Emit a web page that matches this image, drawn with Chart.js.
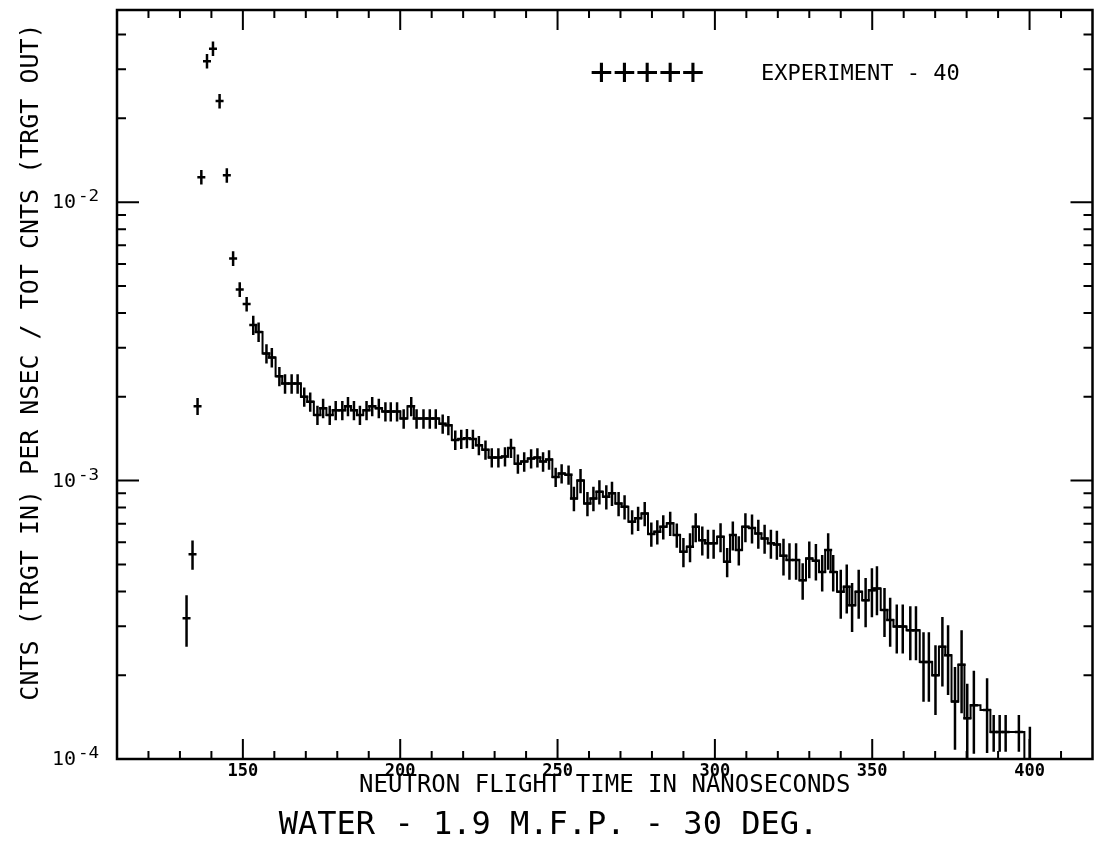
<!DOCTYPE html>
<html>
<head>
<meta charset="utf-8">
<title>Water - 1.9 M.F.P. - 30 deg.</title>
<script src="https://cdn.jsdelivr.net/npm/chart.js@4.4.0/dist/chart.umd.min.js"></script>
<style>
    html, body { margin: 0; padding: 0; background: #fff; }
    #wrap { width: 1099px; height: 851px; }
</style>
</head>
<body>
<div id="wrap"><canvas id="tofChart" width="1099" height="851"></canvas></div>
<script>
// Neutron flight time (ns) of each channel
const flightTimes = [
    132.1, 134.0, 135.6, 136.8, 138.6, 140.5, 142.6, 144.9, 146.9, 149.0,
    151.2, 153.3, 155.0, 157.5, 159.2, 161.6, 163.4, 165.5, 167.4, 169.5,
    171.4, 173.7, 175.5, 177.6, 179.5, 181.6, 183.4, 185.3, 187.2, 189.3,
    191.1, 193.2, 195.3, 197.0, 199.0, 201.1, 203.5, 205.2, 207.4, 209.4,
    211.3, 213.5, 215.3, 217.5, 219.4, 221.2, 223.1, 225.0, 227.1, 229.1,
    231.2, 233.3, 235.2, 237.4, 239.4, 241.6, 243.6, 245.4, 247.3, 249.4,
    251.3, 253.5, 255.2, 257.3, 259.5, 261.4, 263.3, 265.5, 267.3, 269.4,
    271.3, 273.7, 275.6, 277.7, 279.8, 281.7, 283.6, 285.8, 287.9, 290.0,
    292.1, 293.9, 296.0, 297.8, 299.6, 301.8, 303.9, 305.7, 307.6, 309.7,
    311.8, 313.8, 315.8, 317.8, 319.7, 321.8, 323.7, 325.8, 327.9, 330.0,
    332.1, 334.1, 336.0, 337.6, 340.0, 341.9, 343.6, 345.7, 347.9, 349.9,
    351.5, 353.9, 355.7, 357.8, 359.7, 362.1, 363.9, 366.3, 368.0, 370.1,
    372.3, 374.1, 376.3, 378.4, 380.2, 382.3, 386.5, 388.6, 390.5, 392.4,
    396.6, 400.1
];

// Counts (target in) per nsec / total counts (target out)
const counts = [
    3.20e-4, 5.44e-4, 1.85e-3, 1.23e-2, 3.21e-2, 3.56e-2, 2.31e-2, 1.25e-2, 6.28e-3, 4.86e-3,
    4.31e-3, 3.62e-3, 3.42e-3, 2.86e-3, 2.77e-3, 2.37e-3, 2.23e-3, 2.23e-3, 2.23e-3, 2.00e-3,
    1.92e-3, 1.72e-3, 1.82e-3, 1.72e-3, 1.79e-3, 1.79e-3, 1.85e-3, 1.79e-3, 1.72e-3, 1.79e-3,
    1.85e-3, 1.82e-3, 1.77e-3, 1.77e-3, 1.77e-3, 1.67e-3, 1.85e-3, 1.67e-3, 1.67e-3, 1.67e-3,
    1.67e-3, 1.60e-3, 1.58e-3, 1.40e-3, 1.41e-3, 1.42e-3, 1.41e-3, 1.34e-3, 1.29e-3, 1.21e-3,
    1.21e-3, 1.22e-3, 1.31e-3, 1.15e-3, 1.17e-3, 1.20e-3, 1.21e-3, 1.17e-3, 1.19e-3, 1.03e-3,
    1.06e-3, 1.05e-3, 8.63e-4, 1.00e-3, 8.28e-4, 8.63e-4, 9.12e-4, 8.75e-4, 9.00e-4, 8.28e-4,
    8.05e-4, 7.11e-4, 7.32e-4, 7.62e-4, 6.43e-4, 6.55e-4, 6.82e-4, 7.02e-4, 6.37e-4, 5.55e-4,
    5.78e-4, 6.82e-4, 6.11e-4, 5.95e-4, 5.95e-4, 6.28e-4, 5.11e-4, 6.37e-4, 5.63e-4, 6.82e-4,
    6.75e-4, 6.46e-4, 6.20e-4, 5.95e-4, 5.90e-4, 5.37e-4, 5.18e-4, 5.18e-4, 4.39e-4, 5.25e-4,
    5.15e-4, 4.70e-4, 5.63e-4, 4.70e-4, 3.99e-4, 4.16e-4, 3.57e-4, 3.99e-4, 3.72e-4, 4.04e-4,
    4.10e-4, 3.43e-4, 3.16e-4, 2.99e-4, 2.99e-4, 2.90e-4, 2.90e-4, 2.23e-4, 2.23e-4, 2.00e-4,
    2.53e-4, 2.36e-4, 1.61e-4, 2.18e-4, 1.40e-4, 1.56e-4, 1.50e-4, 1.25e-4, 1.25e-4, 1.25e-4,
    1.25e-4, 0.90e-4
];

// Relative statistical error of each channel (half length of the error bar)
const relErrors = [
    0.21, 0.12, 0.07, 0.06, 0.06, 0.06, 0.06, 0.06, 0.06, 0.06,
    0.06, 0.08, 0.08, 0.08, 0.08, 0.08, 0.08, 0.08, 0.08, 0.08,
    0.08, 0.08, 0.08, 0.08, 0.08, 0.08, 0.08, 0.08, 0.08, 0.08,
    0.08, 0.08, 0.08, 0.08, 0.08, 0.08, 0.08, 0.08, 0.08, 0.08,
    0.08, 0.08, 0.08, 0.08, 0.08, 0.08, 0.08, 0.08, 0.08, 0.08,
    0.08, 0.08, 0.08, 0.08, 0.08, 0.08, 0.08, 0.08, 0.08, 0.08,
    0.08, 0.08, 0.10, 0.10, 0.10, 0.10, 0.10, 0.10, 0.10, 0.10,
    0.10, 0.10, 0.10, 0.10, 0.10, 0.10, 0.10, 0.10, 0.10, 0.12,
    0.12, 0.12, 0.12, 0.12, 0.12, 0.12, 0.12, 0.12, 0.12, 0.12,
    0.12, 0.12, 0.12, 0.12, 0.12, 0.15, 0.15, 0.15, 0.15, 0.15,
    0.15, 0.15, 0.15, 0.15, 0.20, 0.20, 0.20, 0.20, 0.20, 0.20,
    0.20, 0.20, 0.20, 0.20, 0.20, 0.22, 0.22, 0.28, 0.28, 0.28,
    0.28, 0.28, 0.33, 0.33, 0.33, 0.33, 0.30, 0.15, 0.15, 0.15,
    0.15, 0.45
];

const histStartTime = 153;            // histogram drawn from this channel on
const xMajorTicks = [150, 200, 250, 300, 350, 400];
const yMajorTicks = [1e-4, 1e-3, 1e-2];
const yTickExponents = ['-4', '-3', '-2'];

const MONO = "'DejaVu Sans Mono', 'Liberation Mono', monospace";

const expPoints = flightTimes.map((t, i) => ({ x: t, y: counts[i] }));
const histPoints = expPoints.filter(p => p.x >= histStartTime);

// Inward tick marks on all four sides plus the frame
const frameTicks = {
    id: 'frameTicks',
    afterDraw(chart) {
        const { ctx, chartArea: a, scales: { x, y } } = chart;
        ctx.save();
        ctx.strokeStyle = '#000';
        ctx.lineWidth = 2;
        ctx.beginPath();
        for (let v = x.min + 10; v < x.max; v += 10) {
            const px = x.getPixelForValue(v);
            const len = xMajorTicks.includes(v) ? 20 : 8;
            ctx.moveTo(px, a.bottom); ctx.lineTo(px, a.bottom - len);
            ctx.moveTo(px, a.top); ctx.lineTo(px, a.top + len);
        }
        yMajorTicks.forEach(dec => {
            for (let m = 1; m <= 9; m++) {
                const v = m * dec;
                if (v <= y.min || v >= y.max) continue;
                const py = y.getPixelForValue(v);
                const len = m === 1 ? 22 : 9;
                ctx.moveTo(a.left, py); ctx.lineTo(a.left + len, py);
                ctx.moveTo(a.right, py); ctx.lineTo(a.right - len, py);
            }
        });
        ctx.stroke();
        ctx.lineWidth = 2.5;
        ctx.strokeRect(a.left, a.top, a.width, a.height);
        ctx.restore();
    }
};

// Vertical error bars through each experimental point
const errorBars = {
    id: 'errorBars',
    afterDatasetsDraw(chart) {
        const { ctx, chartArea: a, scales: { x, y } } = chart;
        ctx.save();
        ctx.beginPath();
        ctx.rect(a.left, a.top, a.width, a.height);
        ctx.clip();
        ctx.strokeStyle = '#000';
        ctx.lineWidth = 2.5;
        ctx.beginPath();
        expPoints.forEach((p, i) => {
            const e = relErrors[i];
            const lo = Math.max(p.y * (1 - e), y.min * 0.5);
            const px = x.getPixelForValue(p.x);
            ctx.moveTo(px, y.getPixelForValue(p.y * (1 + e)));
            ctx.lineTo(px, y.getPixelForValue(lo));
        });
        ctx.stroke();
        ctx.restore();
    }
};

// Decade labels, legend inside the frame and the rotated y-axis title
const annotations = {
    id: 'annotations',
    afterDraw(chart) {
        const { ctx, scales: { y } } = chart;
        ctx.save();
        ctx.fillStyle = '#000';
        ctx.textBaseline = 'middle';

        // 10 with a raised exponent
        yMajorTicks.forEach((v, i) => {
            const py = y.getPixelForValue(v);
            ctx.font = '20px ' + MONO;
            ctx.fillText('10', 52, py + 1);
            ctx.save();
            ctx.translate(78, py - 5);
            ctx.scale(1.1, 1);
            ctx.font = '16px ' + MONO;
            ctx.fillText(yTickExponents[i], 0, 0);
            ctx.restore();
        });

        ctx.font = '38px ' + MONO;
        ctx.fillText('+++++', 590, 74);
        ctx.font = '22px ' + MONO;
        ctx.fillText('EXPERIMENT - 40', 761, 74);

        ctx.translate(31, 362);
        ctx.rotate(-Math.PI / 2);
        ctx.textAlign = 'center';
        ctx.font = '25px ' + MONO;
        ctx.fillText('CNTS (TRGT IN) PER NSEC / TOT CNTS (TRGT OUT)', 0, 0);
        ctx.restore();
    }
};

const ctx = document.getElementById('tofChart').getContext('2d');
const tofChart = new Chart(ctx, {
    type: 'scatter',
    data: {
        datasets: [
            {
                label: 'histogram',
                data: histPoints,
                showLine: true,
                stepped: 'middle',
                borderColor: '#000',
                borderWidth: 2,
                pointRadius: 0,
                fill: false
            },
            {
                label: 'EXPERIMENT - 40',
                data: expPoints,
                showLine: false,
                pointStyle: 'line',
                pointRadius: 4,
                pointBorderWidth: 2.5,
                borderColor: '#000',
                backgroundColor: '#000'
            }
        ]
    },
    options: {
        responsive: false,
        animation: false,
        devicePixelRatio: 1,
        layout: { padding: { top: 10, right: 2, left: 0, bottom: 0 } },
        plugins: {
            legend: { display: false },
            tooltip: { enabled: false },
            title: {
                display: true,
                position: 'bottom',
                text: 'WATER - 1.9 M.F.P. - 30 DEG.',
                color: '#000',
                font: { family: MONO, size: 32, weight: 'normal', lineHeight: 1 },
                padding: { top: 10, bottom: 9 }
            }
        },
        scales: {
            x: {
                type: 'linear',
                min: 110,
                max: 420,
                grid: { display: false, drawTicks: false },
                border: { display: false },
                afterBuildTicks: scale => { scale.ticks = xMajorTicks.map(v => ({ value: v })); },
                afterFit: scale => { scale.height = 41; },
                ticks: {
                    color: '#000',
                    padding: 4,
                    maxRotation: 0,
                    autoSkip: false,
                    font: { family: MONO, size: 17, weight: 'bold', lineHeight: 1 }
                },
                title: {
                    display: true,
                    text: 'NEUTRON FLIGHT TIME IN NANOSECONDS',
                    color: '#000',
                    font: { family: MONO, size: 24, lineHeight: 1 },
                    padding: { top: 0, bottom: 2 }
                }
            },
            y: {
                type: 'logarithmic',
                min: 1e-4,
                max: 0.049,
                grid: { display: false, drawTicks: false },
                border: { display: false },
                afterBuildTicks: scale => { scale.ticks = yMajorTicks.map(v => ({ value: v })); },
                afterFit: scale => { scale.width = 117; },
                ticks: { display: false, padding: 0 }
            }
        }
    },
    plugins: [errorBars, frameTicks, annotations]
});
</script>
</body>
</html>
